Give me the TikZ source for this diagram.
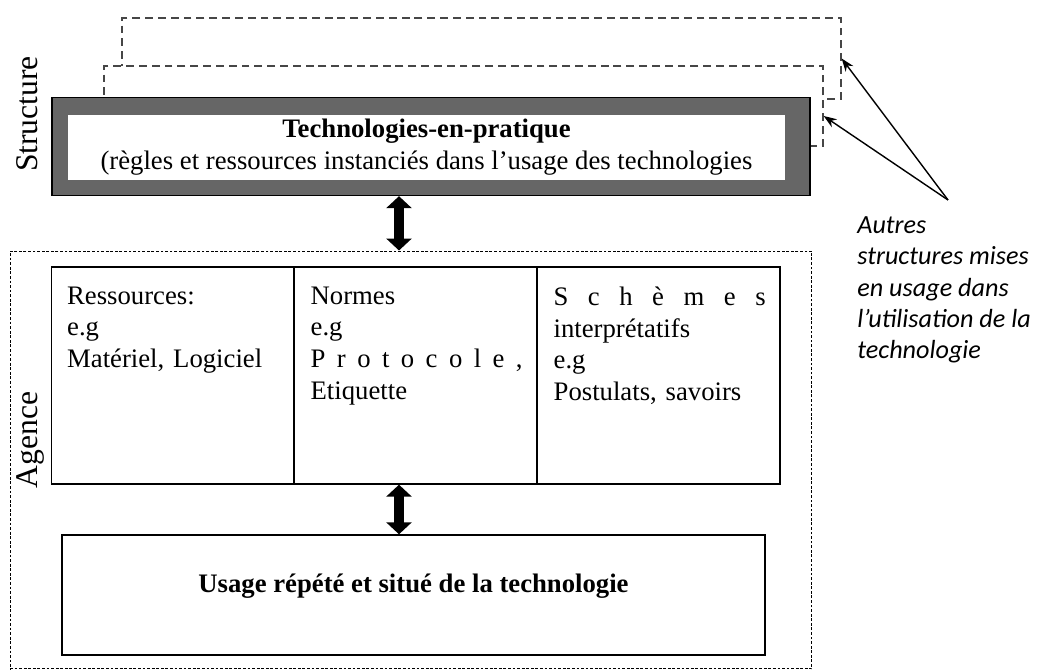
\documentclass[tikz,border=0pt]{standalone}
\usepackage{fontspec}
\setmainfont{Liberation Serif}
\newfontfamily\notefont{Carlito}
\usepackage{tikz}
\usetikzlibrary{arrows.meta, positioning}
\definecolor{framegray}{RGB}{102, 102, 102}
\definecolor{dashgray}{RGB}{70, 70, 70}
\newcommand{\bodyfont}{\fontsize{15.2}{18.1}\selectfont}
\newcommand{\spreadline}[1]{{\spaceskip=0pt\xspaceskip=0pt\makebox[4.24cm][s]{#1}}}

\begin{document}
\begin{tikzpicture}[x=0.02cm, y=-0.02cm,
  ghost/.style={draw=dashgray, fill=white, line width=0.85pt,
                dash pattern=on 4.5pt off 2.8pt, inner sep=0},
  colbox/.style={draw, line width=0.8pt, minimum width=4.86cm,
                 minimum height=4.34cm, inner sep=0},
  coltext/.style={font=\bodyfont, text width=4.25cm, align=left, inner sep=0},
  sidelbl/.style={rotate=90, font=\fontsize{18}{20}\selectfont, inner sep=0},
  bigarrow/.style={{Triangle[length=0.24cm,width=0.5cm]}-{Triangle[length=0.24cm,width=0.5cm]},
                   line width=0.19cm},
  notearrow/.style={-{Stealth[length=2.6mm,width=1.9mm]}, line width=0.8pt},
]
\useasboundingbox (0,0) rectangle (1042,671);

% Structure
\node[ghost, minimum width=14.38cm, minimum height=1.62cm] (ghostback) at (481.5,58.5) {};
\node[ghost, minimum width=14.38cm, minimum height=1.6cm] (ghostmid) at (463.5,106) {};
\node[draw, line width=0.8pt, fill=framegray, minimum width=15.16cm, minimum height=1.96cm] (frame) at (431,146.5) {};
\node[fill=white, minimum width=14.34cm, minimum height=1.3cm, inner sep=0,
      align=center, font=\bodyfont] (tech) at (426.5,147.5)
{\textbf{Technologies-en-pratique}\\(règles et ressources instanciés dans l’usage des technologies};
\node[sidelbl] (structlbl) at (27.5,114) {Structure};

% Agence
\node[draw, line width=0.6pt, dash pattern=on 1.6pt off 1pt, inner sep=0,
      minimum width=16.04cm, minimum height=8.36cm] (agence) at (411,460) {};
\node[sidelbl] (agencelbl) at (30,440) {Agence};

\node[colbox] (colres) at (173,375.5) {};
\node[colbox] (colnorm) at (415.5,375.5) {};
\node[colbox] (colsch) at (658.5,375.5) {};

\node[coltext, anchor=north west] (res) at ([shift={(16,20)}]colres.north west)
{Ressources:\\e.g\\Matériel, Logiciel};
\node[coltext, anchor=north west] (norm) at ([shift={(17,20)}]colnorm.north west)
{Normes\\e.g\\\spreadline{P r o t o c o l e ,}\\Etiquette};
\node[coltext, anchor=north west] (sch) at ([shift={(17,20)}]colsch.north west)
{\spreadline{S c h è m e s}\\interprétatifs\\e.g\\Postulats, savoirs};

\node[draw, line width=0.8pt, minimum width=14.06cm, minimum height=2.4cm, inner sep=0] (usage) at (413.5,595) {};
\node[font=\bodyfont\bfseries, inner sep=0] (usagetxt) at ([yshift=0.18cm]usage.center)
{Usage répété et situé de la technologie};

% Arrows
\coordinate (axis) at (399,0);
\draw[bigarrow] (frame.south -| axis) -- (agence.north -| axis);
\draw[bigarrow] (colnorm.south -| axis) -- (usage.north -| axis);

% Note
\node[font=\notefont\itshape\fontsize{14.9}{17.9}\selectfont, align=left,
      inner sep=0, anchor=north west] (autres) at (857,216)
{Autres\\structures mises\\en usage dans\\l’utilisation de la\\technologie};
\coordinate (src) at (948,200);
\draw[notearrow] (src) -- (ghostback.east);
\draw[notearrow] (src) -- ([yshift=-0.2cm]ghostmid.east);
\end{tikzpicture}
\end{document}
